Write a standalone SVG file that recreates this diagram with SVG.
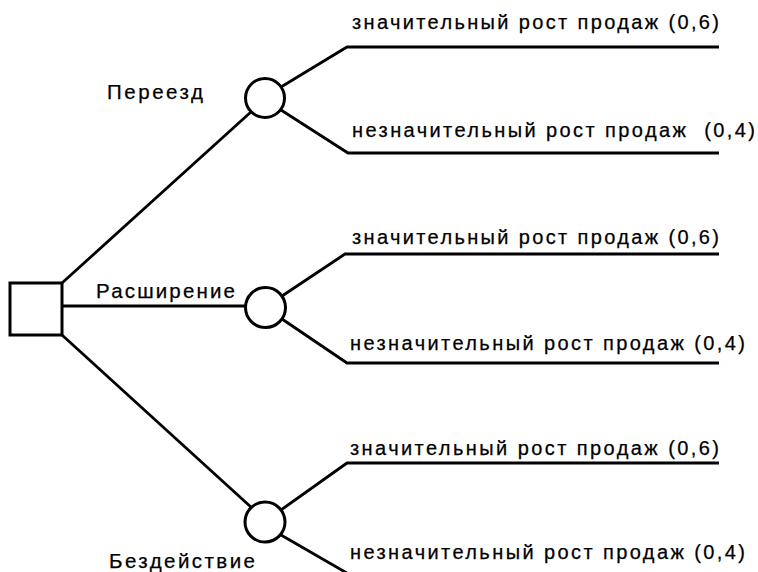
<svg xmlns="http://www.w3.org/2000/svg" width="758" height="572" viewBox="0 0 758 572">
<style>
.ln{fill:none;stroke:#000;stroke-width:2.8;stroke-linejoin:miter}
.nd{fill:#fff;stroke:#000;stroke-width:3}
.t{font-family:"Liberation Sans",Arial,sans-serif;font-size:20px;fill:#000;stroke:#000;stroke-width:0.25}
.lb{font-family:"Liberation Sans",Arial,sans-serif;font-size:20.5px;fill:#000;stroke:#000;stroke-width:0.25}
</style>
<rect width="758" height="572" fill="#fff"/>
<g id="connectors">
<line class="ln" x1="62" y1="283" x2="252" y2="111"/>
<line class="ln" x1="62" y1="306" x2="246" y2="306"/>
<line class="ln" x1="62" y1="335" x2="252" y2="508"/>
<polyline class="ln" points="281,87 347,47 719,47"/>
<polyline class="ln" points="281,110 348,153 719,153"/>
<polyline class="ln" points="282,296 345,254 719,254"/>
<polyline class="ln" points="282,319 347,363 719,363"/>
<polyline class="ln" points="281,510 347,463 719,463"/>
<polyline class="ln" points="281,535 352,576"/>
</g>
<g id="decision"><rect class="nd" x="10" y="283" width="52" height="52"/></g>
<g id="chance1"><circle class="nd" cx="265" cy="98" r="19.5"/></g>
<g id="chance2"><circle class="nd" cx="265.5" cy="307.5" r="20"/></g>
<g id="chance3"><circle class="nd" cx="265" cy="522" r="20"/></g>
<g id="labels">
<text class="lb" x="107" y="99" textLength="96" lengthAdjust="spacing">Переезд</text>
<text class="lb" x="96" y="298" textLength="139" lengthAdjust="spacing">Расширение</text>
<text class="lb" x="109" y="568" textLength="146" lengthAdjust="spacing">Бездействие</text>
<text class="t" x="352" y="29" textLength="367" lengthAdjust="spacing">значительный рост продаж (0,6)</text>
<text class="t" x="352" y="137" textLength="403" lengthAdjust="spacing" xml:space="preserve">незначительный рост продаж  (0,4)</text>
<text class="t" x="352" y="244" textLength="367" lengthAdjust="spacing">значительный рост продаж (0,6)</text>
<text class="t" x="350" y="350" textLength="395" lengthAdjust="spacing">незначительный рост продаж (0,4)</text>
<text class="t" x="350" y="455" textLength="369" lengthAdjust="spacing">значительный рост продаж (0,6)</text>
<text class="t" x="350" y="559" textLength="395" lengthAdjust="spacing">незначительный рост продаж (0,4)</text>
</g>
</svg>
